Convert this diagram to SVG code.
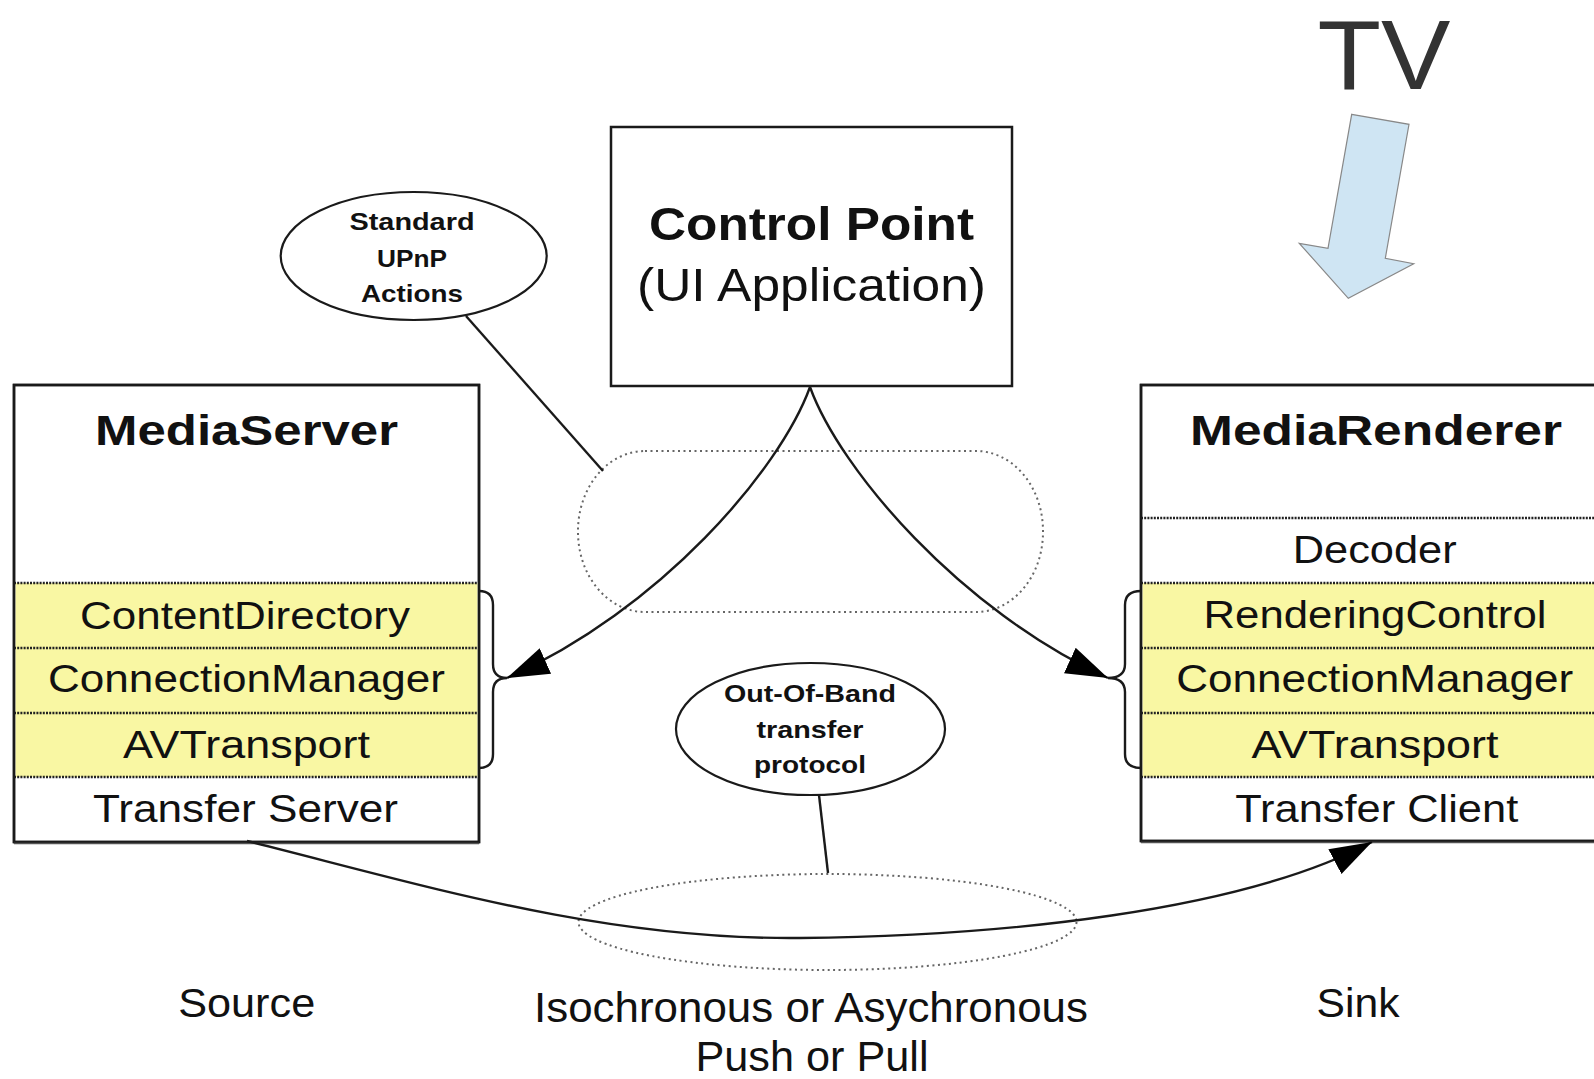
<svg xmlns="http://www.w3.org/2000/svg" width="1594" height="1079" viewBox="0 0 1594 1079">
  <style>
    .box { fill: #ffffff; stroke: #1a1a1a; stroke-width: 2.5; }
    .band { fill: #f9f7a3; }
    .sep { stroke: #222; stroke-width: 2.5; stroke-dasharray: 2 1.2; fill: none; }
    .t { font-family: "Liberation Sans", Arial, sans-serif; fill: #111; text-anchor: middle; }
    .b { font-weight: bold; }
    .callout { fill: #ffffff; stroke: #1a1a1a; stroke-width: 2.2; }
    .dots { fill: none; stroke: #666; stroke-width: 2; stroke-dasharray: 2 3.5; }
    .wire { fill: none; stroke: #1a1a1a; stroke-width: 2.4; }
  </style>
  <defs>
    <marker id="head" markerUnits="userSpaceOnUse" markerWidth="44" markerHeight="30" refX="42" refY="14" orient="auto">
      <path d="M0,0 L42,14 L0,28 Z" fill="#000"/>
    </marker>
  </defs>

  <rect width="1594" height="1079" fill="#ffffff"/>

  <!-- TV caption and pointer -->
  <g id="tv">
    <text class="t" x="1384" y="89" font-size="98" style="fill:#333" textLength="133" lengthAdjust="spacingAndGlyphs">TV</text>
    <polygon points="1351.7,114.3 1409,124.3 1385.3,258.3 1413.7,263.7 1348.3,298.3 1299.3,243.3 1328,248.3" fill="#cfe5f3" stroke="#888" stroke-width="1.2"/>
  </g>

  <!-- Control Point -->
  <g id="control-point">
    <rect class="box" x="611" y="127" width="401" height="259"/>
    <text class="t b" x="811.5" y="240" font-size="46" textLength="325" lengthAdjust="spacingAndGlyphs">Control Point</text>
    <text class="t" x="811.5" y="301" font-size="46" textLength="349" lengthAdjust="spacingAndGlyphs">(UI Application)</text>
  </g>

  <!-- MediaServer -->
  <g id="media-server">
    <rect class="box" x="14" y="385" width="465" height="457"/>
    <rect class="band" x="15.5" y="583" width="462" height="194"/>
    <line class="sep" x1="14" y1="583" x2="479" y2="583"/>
    <line class="sep" x1="14" y1="648" x2="479" y2="648"/>
    <line class="sep" x1="14" y1="713" x2="479" y2="713"/>
    <line class="sep" x1="14" y1="777" x2="479" y2="777"/>
    <rect x="14" y="385" width="465" height="457" fill="none" stroke="#1a1a1a" stroke-width="2.5"/>
    <line x1="14" y1="843.5" x2="479" y2="843.5" stroke="#555" stroke-width="1.5"/>
    <text class="t b" x="246.5" y="445" font-size="42" textLength="303" lengthAdjust="spacingAndGlyphs">MediaServer</text>
    <text class="t" x="245" y="629" font-size="38" textLength="330" lengthAdjust="spacingAndGlyphs">ContentDirectory</text>
    <text class="t" x="246.5" y="692" font-size="38" textLength="397" lengthAdjust="spacingAndGlyphs">ConnectionManager</text>
    <text class="t" x="246.5" y="758" font-size="38" textLength="247" lengthAdjust="spacingAndGlyphs">AVTransport</text>
    <text class="t" x="245.5" y="822" font-size="38" textLength="305" lengthAdjust="spacingAndGlyphs">Transfer Server</text>
  </g>

  <!-- MediaRenderer (runs past the right edge) -->
  <g id="media-renderer">
    <rect class="box" x="1141" y="385" width="470" height="456"/>
    <rect class="band" x="1142.5" y="583" width="470" height="194"/>
    <line class="sep" x1="1141" y1="518" x2="1611" y2="518"/>
    <line class="sep" x1="1141" y1="583" x2="1611" y2="583"/>
    <line class="sep" x1="1141" y1="648" x2="1611" y2="648"/>
    <line class="sep" x1="1141" y1="713" x2="1611" y2="713"/>
    <line class="sep" x1="1141" y1="777" x2="1611" y2="777"/>
    <rect x="1141" y="385" width="470" height="456" fill="none" stroke="#1a1a1a" stroke-width="2.5"/>
    <line x1="1141" y1="842.5" x2="1611" y2="842.5" stroke="#555" stroke-width="1.5"/>
    <text class="t b" x="1376" y="445" font-size="42" textLength="372" lengthAdjust="spacingAndGlyphs">MediaRenderer</text>
    <text class="t" x="1374.7" y="563" font-size="38" textLength="164" lengthAdjust="spacingAndGlyphs">Decoder</text>
    <text class="t" x="1375" y="628" font-size="38" textLength="343" lengthAdjust="spacingAndGlyphs">RenderingControl</text>
    <text class="t" x="1374.7" y="692" font-size="38" textLength="397" lengthAdjust="spacingAndGlyphs">ConnectionManager</text>
    <text class="t" x="1375" y="758" font-size="38" textLength="247" lengthAdjust="spacingAndGlyphs">AVTransport</text>
    <text class="t" x="1376.7" y="822" font-size="38" textLength="283" lengthAdjust="spacingAndGlyphs">Transfer Client</text>
  </g>

  <!-- Callout: standard actions -->
  <g id="standard-actions">
    <ellipse class="callout" cx="413.7" cy="256" rx="133" ry="64"/>
    <text class="t b" x="412" y="230" font-size="24" textLength="125" lengthAdjust="spacingAndGlyphs">Standard</text>
    <text class="t b" x="412" y="267" font-size="24" textLength="70" lengthAdjust="spacingAndGlyphs">UPnP</text>
    <text class="t b" x="412" y="302" font-size="24" textLength="102" lengthAdjust="spacingAndGlyphs">Actions</text>
  </g>

  <!-- Callout: transfer protocol -->
  <g id="transfer-protocol">
    <ellipse class="callout" cx="810.5" cy="729" rx="134.5" ry="66"/>
    <text class="t b" x="810" y="702" font-size="24" textLength="172" lengthAdjust="spacingAndGlyphs">Out-Of-Band</text>
    <text class="t b" x="810" y="738" font-size="24" textLength="107" lengthAdjust="spacingAndGlyphs">transfer</text>
    <text class="t b" x="810" y="773" font-size="24" textLength="112" lengthAdjust="spacingAndGlyphs">protocol</text>
  </g>

  <!-- Group outlines -->
  <g id="action-scope">
    <rect class="dots" x="578" y="451" width="465" height="161" rx="67" ry="80"/>
  </g>
  <g id="transfer-scope">
    <ellipse class="dots" cx="827.5" cy="922" rx="249" ry="48"/>
  </g>

  <!-- Connectors -->
  <g id="connectors">
    <line class="wire" x1="466" y1="316" x2="603" y2="471"/>
    <line class="wire" x1="819" y1="795" x2="828" y2="873"/>
    <path class="wire" d="M479,591 Q493,591 493,605 L493,664 Q493,678 507,678 Q493,678 493,692 L493,754 Q493,768 479,768"/>
    <path class="wire" d="M1141,591 Q1125,591 1125,605 L1125,664 Q1125,678 1108,678 Q1125,678 1125,692 L1125,754 Q1125,768 1141,768"/>
    <path class="wire" d="M810,387 C780,470 660,610 507,678" marker-end="url(#head)"/>
    <path class="wire" d="M810,387 C840,470 960,610 1108,678" marker-end="url(#head)"/>
    <path class="wire" d="M247,841 C420,884 600,940 800,938 C1000,936 1240,912 1372,842" marker-end="url(#head)"/>
  </g>

  <!-- Captions -->
  <g id="captions">
    <text class="t" x="246.7" y="1017" font-size="40" textLength="137" lengthAdjust="spacingAndGlyphs">Source</text>
    <text class="t" x="1358" y="1017" font-size="40" textLength="83" lengthAdjust="spacingAndGlyphs">Sink</text>
    <text class="t" x="811" y="1022" font-size="42" textLength="554" lengthAdjust="spacingAndGlyphs">Isochronous or Asychronous</text>
    <text class="t" x="812" y="1071" font-size="42" textLength="233" lengthAdjust="spacingAndGlyphs">Push or Pull</text>
  </g>
</svg>
